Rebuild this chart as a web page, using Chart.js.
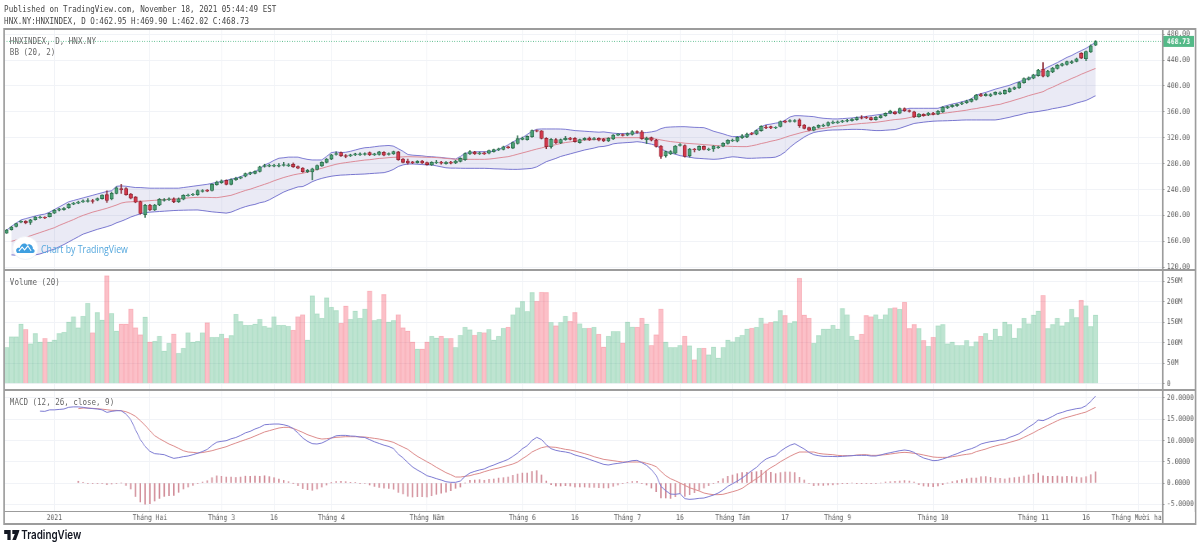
<!DOCTYPE html>
<html>
<head>
<meta charset="utf-8">
<title>HNXINDEX</title>
<script src="https://cdn.jsdelivr.net/npm/chart.js@4/dist/chart.umd.min.js"></script>
<style>
  html, body { margin: 0; padding: 0; background: #fff; overflow: hidden; }
  /* the whole screenshot is squeezed sideways, so everything is laid out wider and scaled */
  #wrap { position: absolute; left: 0; top: 0; width: 1464px; height: 547px; transform: scaleX(0.82); transform-origin: 0 0; }
  canvas { position: absolute; left: 5px; }
  .txt { position: absolute; font-family: "DejaVu Sans Mono", monospace; font-size: 9.2px; color: #666; white-space: pre; line-height: 12px; }
  .head { color: #444; }
  .line { position: absolute; background: #9c9c9c; }
  #logo-text { position: absolute; left: 50px; top: 242px; font: 10.7px "Open Sans", sans-serif; color: #54a7dd; white-space: pre; line-height: 14px; }
  #tv-text { position: absolute; left: 26px; top: 526px; font: 600 12px Inter, sans-serif; color: #131722; line-height: 18px; }
</style>
</head>
<body>
<div id="wrap">
  <canvas id="priceChart" width="1452" height="240" style="top:29px"></canvas>
  <canvas id="volumeChart" width="1452" height="119" style="top:270px"></canvas>
  <canvas id="macdChart" width="1452" height="133" style="top:390px"></canvas>

  <div class="txt head" style="left:5px;top:2.5px">Published on TradingView.com, November 18, 2021 05:44:49 EST</div>
  <div class="txt head" style="left:5px;top:14.5px">HNX.NY:HNXINDEX, D O:462.95 H:469.90 L:462.02 C:468.73</div>
  <div class="txt" style="left:12px;top:34.5px">HNXINDEX, D, HNX.NY</div>
  <div class="txt" style="left:12px;top:45.5px">BB (20, 2)</div>
  <div class="txt" style="left:12px;top:276px">Volume (20)</div>
  <div class="txt" style="left:12px;top:396px">MACD (12, 26, close, 9)</div>

  <svg style="position:absolute;left:14px;top:236px" width="34" height="24" viewBox="0 0 34 24">
    <ellipse cx="17" cy="12" rx="15.5" ry="11.5" fill="#fff" stroke="#eef1f6"/>
    <path d="M7 17 C4 14 7 11 10 12 C11 8 16 6 19 9 C22 7 27 10 26 13 C29 13 29 17 26 17 Z" fill="#3f9fe0"/>
    <path d="M9 15 L13 11 L16 14 L20 10 L24 15" fill="none" stroke="#fff" stroke-width="1.2"/>
  </svg>
  <div id="logo-text">Chart by TradingView</div>

  <svg style="position:absolute;left:5px;top:529px" width="19" height="12" viewBox="0 0 19 12">
    <path d="M0 1 H8 V11 H4 V5 H0 Z M10 1 H19 L14.5 11 H10 L13 5 H10 Z" fill="#131722"/>
  </svg>
  <div id="tv-text">TradingView</div>

  <!-- frame and pane separators -->
  <div class="line" style="left:5px;top:28px;width:1453px;height:1.5px"></div>
  <div class="line" style="left:5px;top:269px;width:1453px;height:1.5px"></div>
  <div class="line" style="left:5px;top:389px;width:1453px;height:1.5px"></div>
  <div class="line" style="left:5px;top:511px;width:1412px;height:1px"></div>
  <div class="line" style="left:5px;top:523px;width:1453px;height:1.5px"></div>
  <div class="line" style="left:4px;top:28px;width:2px;height:497px"></div>
  <div class="line" style="left:1457px;top:28px;width:2px;height:497px"></div>
  <div style="position:absolute;left:1418px;top:512px;width:39px;height:11px;background:#fff"></div>
  <div class="line" style="left:1417px;top:28px;width:1.5px;height:496px"></div>
</div>

<script>
// --- Data, one entry per trading day ---
const opens = [
  172.5,178,183,189.5,191,189,193.5,196.5,197,198,
  203.5,208,209,212,217.5,219,221,221.5,223,223.5,
  226,232,225.5,234,241.5,241.5,233,228.5,221.5,201,
  216,208.5,216,223,224,225.5,221,225,230.5,231.5,
  232,237,239,238.5,247.5,250.5,254,248,255,257.5,
  260.5,264,265,268,275.5,276,276,276,277,276.5,
  279,275.5,273,267.5,267,271,276.5,282,287,294,
  297,292.5,292,293.5,293.5,294,297,293.5,294,297.5,
  294,295,298,287,284,282.8,281.5,284,281.5,278,
  281.5,282.5,280,282.5,281,283.5,286,295,298,295,
  296.8,296,298.5,301,302,306,304,311,317.5,317,
  321.5,331,330.5,319,306,317,312,317,319.5,319,
  312.5,317,319.5,317.5,319,318,315,318,324,325,
  324,325,329.5,329,317,320,316.5,307,292,295,
  296,308,308,292,302.5,301,306.5,301.5,302.5,304.5,
  307,311,315,314.5,320,321,327,325.5,331,336.5,
  337,335,337.5,345.5,345,345,347.5,339.5,335.5,331.5,
  336,338,339,342.5,343,344.5,345.5,346.5,348,351,
  351.5,351,348,351,354,358,360,358,365,362,
  360,352.5,356,355,358,356.5,360,366,368,369.5,
  372,374,376,379,386.5,385,384.5,387,387.5,388,
  391,395,397,405,410,412,416,425.5,415,421.5,
  427,431.5,433,435.5,438,450.5,442,452.5,462.95
];
const closes = [
  177.5,182,187.5,191,188.5,193,197.5,197.5,196,203,
  208,210,211,217,219,220.5,222.5,223,221.5,226,
  231.5,223,234,242.5,239.5,232,226.5,220.5,203,215.5,
  208.5,216,225,224.5,225.5,221,225.5,231,231.5,232.5,
  238.5,238.5,237.5,248,251.5,253.5,248,255.5,257.5,259,
  264.5,266,268,275,277,277.5,277.5,277.5,278.5,278,
  275,273,267.5,269.5,272,277,282,287,293.5,295.5,
  292,291,293.5,295,295,295.5,293.5,295,298,293,
  295.5,298.5,286,282,281,281.2,283.5,281,278.5,282,
  282.5,280.5,282,280.5,284,288,295.5,298.5,295,296.8,
  295,300,301.5,303,306,304.5,312.5,318.5,319.5,322,
  331,330,319,306,317.5,312,317,319,317.5,314,
  317,319,316.5,318.5,316,315,319,324,325.5,323.5,
  326.5,329.5,328,318.5,319,316,306.5,291,298.5,298.5,
  307,309.5,291,302.5,301.5,306.5,302,302.5,307,306,
  311.5,316,316.5,320.5,323,325.5,325.5,331,337.5,335,
  335,336,345,344,346.5,346.5,338.5,334.5,331.5,336.5,
  339,339.5,343.5,344,344.5,346,347,348.5,351,350,
  350.5,348,351.5,354,357.5,361,357,365,361.5,360.5,
  352,356.5,354,358,356,361,367,368,370,371.5,
  374,377,379.5,386,384.5,387,386.5,390,389.5,393,
  396,397.5,405,411.5,412.5,417,424.5,415,423,427.5,
  432,434,437.5,437.5,442,443,453,462,468.73
];
const highs = [
  178.5,183,188,192,192,194,198,199,198,204,
  209,211,212,218,220,222,224,226,225,227,
  232,238,236,244,248,243,234,229,222,217,
  217,217,226,226,227,227,227,232,233,234,
  239.5,240,240,249,253,255,255,256.5,259,260,
  265.5,267,269,276,279,279,279,280,282,280,
  281,276.5,274,271,273,278,283,288,294.5,298,
  298,294,294.5,296,296.5,296.5,298,296,299,298.5,
  296.5,299.5,299,288,287,283.5,284.5,285,282.5,283,
  285,283.5,283,283.5,285,289,296.5,300,299,298,
  298,301,302.5,304,307,307,313.5,323,321,323,
  332,332,331,320,318.5,318.5,318,322,320.5,320,
  318,320,321,320.5,320,319,320,325,326.5,326,
  327.5,331,330.5,331,321,321,317.5,308,299.5,300,
  308,311,309,303.5,303.5,307.5,307.5,304,308,307,
  312.5,317,318,321.5,325,327,328,332,338.5,339,
  338,337,346,347,348,348,349,340.5,336.5,337.5,
  340,341,344.5,346,346,347,348.5,349.5,352,354,
  353,352,352.5,355,358.5,362.5,361,366,366,363,
  361,357.5,357,359,359,362,368,369,371,372.5,
  375,378,380.5,387,388.5,388.5,388,391,391,394,
  397,398.5,406,412.5,414,418,425.5,436,424,428.5,
  433,435,438.5,439,443,451.5,454,463.5,469.9
];
const lows = [
  172,177,182,188.5,187,186,192.5,195.5,195,197.5,
  203,207,208,211,216.5,218,220,220.5,219,222.5,
  225,220,224,233,234,231,225.5,219.5,202,197,
  207.5,207.5,215,222,223,219.5,220,224,229.5,230.5,
  231,236,236.5,237.5,246.5,249.5,247,247,254,256.5,
  259.5,263,264,267,274.5,275,275,275,276,275.5,
  274,272,266.5,266,255,270,275.5,281,286,293,
  291,289,291,292.5,292.5,293,292.5,292.5,293,292,
  293,294,285,281,279,280,280.5,280,277.5,277,
  280,279,279,279.5,280,282.5,285,294,294,294,
  294,295,297.5,300,301,303.5,303,310,316.5,316,
  320.5,329,318,303,304,311,311,316,316.5,313,
  311.5,316,315.5,316.5,315,314,314,317,323,322.5,
  323,324,327,317.5,311,315,305.5,288,290,294,
  295,307,290,290,298,300,301,300,299,303.5,
  306,310,314,313.5,319,320,324.5,324.5,330,334,
  334,334,336.5,343,344,344,336,333.5,330.5,330.5,
  335,337,338,341.5,342,343.5,344.5,345.5,347,349,
  349.5,347,347,350,353,357,356,357,360.5,359.5,
  351,351.5,353,354,355,355.5,359,365,367,368.5,
  371,373,375,378,383.5,384,383.5,386,386.5,387,
  390,394,396,404,409,411,415,414,414,420.5,
  426,430.5,432,434.5,437,442,439,451.5,462.02
];
const bbUpper = [
  177,183,188,193,195,197,199,200.8,202,205,
  209,213,217,221,223,225,227,229,231,233,
  235,237,238,245,245.5,245,244,243,243,242.5,
  242,242,242,242,242,242,242,243,244,245,
  246,247,248,249.5,251,252.5,254,256,257.4,260,
  262.5,265,267.6,272,277.8,281,285,288.3,289,290,
  290,290,288,286.5,285.6,285.6,285.6,291,297,298,
  297,297.5,299,301,303,304.5,305,306,307,307.5,
  308,307,303,299,294,293,292.5,292,291,290.7,
  290,289.5,288.5,288,287,291,296,297,298,298.4,
  298.4,298.4,299,302,305,309,313.5,317,320,325,
  330,333,333.5,333.5,333.5,333.5,333.4,333,332,331,
  330.5,330,329.5,329,328.5,329,328,327,326.5,326.5,
  326.7,326.7,327,327.5,328,329,330.5,334,336,336.5,
  336.8,337,337,336.5,336,335.8,335.5,333,330,328,
  326,323.5,321.6,321.8,322.2,322.6,326,332,337,340,
  341,342.5,343.5,347,352,354,354,353.5,353,352.5,
  351,350,349.5,349,349,349.5,350,350.5,351.5,352,
  353,354,355,356,357,358,359,360.5,363.5,365.4,
  365.4,365.4,365.4,365.4,365.4,365.4,368,370,372,373.5,
  375.5,377.2,380,386,388,390,392.5,395,397,399,
  401,404,406.5,409,412,415,419,425,429,432.5,
  436,440,444,447,451,454.5,458,462.5,467.3
];
const bbLower = [
  null,139,138.5,138,137.5,138,139,140.5,143,145.5,
  148,151.5,155,159,163,167,171,173.5,176,178.5,
  180.5,182.6,185,188.5,191,194,197.5,200,202.5,204.2,
  205,205.5,206,206.5,207,207.5,207.8,208,208.2,208.3,
  208.4,207.5,206.5,205.5,204.8,204.2,203.5,205,208,211,
  213.5,215.5,217,219.5,221,224,228,232,236,239,
  241.5,244,244.5,248,252.1,255,257.2,259,260.5,261.5,
  262.2,262.5,263,263.3,263.6,263.9,264.5,265,265.5,266,
  268,271,275.5,278,279.4,279.4,279,278.5,278,278,
  276.5,275,273.5,273,273,272.8,272.7,272.7,272.7,272.7,
  272.7,272.5,272,271.8,271.5,271.2,271.1,271.1,271.5,272,
  272.7,275,279,283,285.5,288,291,293,295,297,
  299,301,302.5,304,306,306.5,308,310.5,311.5,312,
  312.5,313,313.8,313,311.5,310,308,303,299,296.5,
  294.5,292.3,291,290,288.5,288,287.5,287,286.6,287,
  288,289.5,290.5,290,289,288.2,288.2,288.5,288.8,289,
  289.2,290,293,298,305,311,316,321,325,328,
  329.5,330.5,331.5,331.9,332,332.3,332.6,332.9,332.9,332.7,
  332.2,331.5,331,331,331.5,332,332.5,334.5,337,339.5,
  342,343,344,344.8,345.5,345.8,346,346.2,346.5,346.8,
  347.2,347.4,347.4,347.4,347.4,347.4,347.4,347.4,348.5,350,
  351.5,353.5,355,357,358.7,359.5,360.5,361.8,363,364.8,
  366,367.5,369,371,373.5,375.5,377.5,381,384.9
];
const bbBasis = [
  null,160,162,164,166,168.5,171,173.5,176,178.5,
  181,184.5,187.5,190.5,193.5,197,200,202.5,205,207,
  209,211,213.5,216,219,220.5,221,221.5,222,222.2,
  222.8,223.3,223.8,224.2,224.8,225.3,225.8,226.3,227,227.5,
  227.9,227.9,227.8,227.6,227.4,228.5,229.7,231,233.5,236,
  238.5,240.5,243,245.5,248,250.5,253.5,256,258.5,260.5,
  262.5,264,265,267,269.1,271,272.7,275,277,279,
  280.4,281.5,282.5,283.5,284.5,285.5,286,287,288,288.5,
  289.2,289.7,290,290.4,290.7,290.5,290.3,290,289.8,289.7,
  289.3,288.8,288,287.4,286.8,286.6,286.6,286.6,286.6,286.6,
  286.6,287,287.8,288.8,289.8,290.7,292.5,294.5,296.5,298.4,
  300.5,302.5,304.2,306.2,307.8,309.3,311,312.5,313.5,314.5,
  315.5,316.4,316.8,317,317.5,319,319.5,319.8,320,320,
  320,320,320,320,319.5,319,318,316.5,315.2,314,
  313.2,312.5,311.5,311,310.5,310,309.3,308.8,308.2,307.6,
  307.2,306.8,306.5,306.3,306.2,306.2,307.5,309,311,312.5,
  314.5,316,318,320.5,323,325,327,329,330.5,332,
  333.5,334.5,335.5,337,338,338.5,339.5,340.5,341.2,342,
  342.5,343.2,343.7,344.8,345.8,347,348,348.6,349.5,351,
  352.5,353.5,354.5,355,356,356.8,357.6,358.5,359.5,360.5,
  361.5,362.5,364,365,366.5,367.5,369,370.5,371.5,373.8,
  375.7,378,380.2,382.5,385,387,389,391.1,395,398,
  401.5,405,408,411.5,414.5,418,421,424,427
];
// volume in millions
const volumes = [
  89,115,115,146,133,98,123,102,111,102,
  107,123,126,151,164,137,165,197,125,174,
  156,264,172,129,146,146,183,137,120,163,
  102,104,116,80,99,122,75,87,125,102,
  104,125,149,114,114,122,111,118,170,152,
  143,143,146,158,141,137,164,143,143,141,
  131,164,169,107,215,171,160,210,187,179,
  148,190,158,178,160,183,227,155,158,218,
  151,155,169,137,129,102,85,85,102,116,
  112,116,111,111,89,119,138,132,119,126,
  125,133,107,116,136,138,169,186,201,177,
  223,202,224,223,150,142,150,165,153,174,
  147,136,136,138,121,90,116,128,128,100,
  151,139,138,160,146,94,120,183,102,89,
  89,94,116,93,59,87,87,71,90,63,
  89,107,103,114,119,134,136,138,161,147,
  150,152,179,167,148,152,258,168,160,99,
  118,134,134,143,134,184,169,116,107,121,
  167,164,169,158,169,184,186,182,199,135,
  145,135,106,92,114,142,145,98,102,94,
  94,106,91,103,116,123,107,134,116,151,
  145,112,135,160,147,168,178,216,135,145,
  160,142,150,182,162,204,191,140,168
];
const macdLine = [
  null,null,null,null,null,null,null,16.9,16.85,17.2,
  17.2,17.3,17.4,17.8,17.9,17.9,17.8,17.6,17.5,17.4,
  17.2,16.6,16.85,17,17,16.2,14.9,12.5,10.2,8.6,
  7.45,6.9,6.8,6.66,6.2,5.8,5.96,6.2,6.35,6.66,
  7,7.4,7.9,8.85,9.6,9.8,9.95,10.4,10.7,11.2,
  11.8,12.15,12.7,13.1,13.7,13.8,13.87,13.87,13.7,13.4,
  12.8,11.75,10.6,9.8,9.25,9.17,9.4,9.95,10.6,11.1,
  11.2,11.2,11.05,11,10.8,10.7,10.2,9.7,9.3,8.9,
  8.6,8.1,6.8,5.9,4.8,3.76,3.06,2.43,1.72,1.4,
  1.02,0.7,0.3,0.16,0.16,0.47,1.57,2.35,2.74,3.06,
  3.3,3.84,4.23,4.7,5.1,5.56,6.27,7.05,8.07,8.78,
  10,10.74,10.2,9,8.07,7.68,7.45,7.3,7.05,6.58,
  6.27,5.96,5.56,5.17,4.78,4.39,4.23,4.47,4.62,4.78,
  5,5.25,5.33,4.78,4.15,3.13,1.8,-0.78,-1.8,-2.6,
  -2.66,-2.5,-3.68,-3.84,-3.76,-3.6,-3.53,-3.2,-2.82,-2.35,
  -1.65,-0.78,-0.16,0.47,1.18,2.04,2.9,3.68,4.78,5.64,
  6.11,6.43,7.45,8.23,8.86,9.25,8.62,8,7.2,6.66,
  6.43,6.27,6.27,6.23,6.2,6.27,6.35,6.43,6.5,6.5,
  6.5,6.35,6.35,6.58,6.9,7.13,7.37,7.6,7.76,7.6,
  7.2,6.43,5.88,5.56,5.25,5.33,5.64,6.03,6.5,6.9,
  7.37,7.76,8.07,8.54,9.17,9.48,9.72,9.87,10.1,10.2,
  10.74,11.13,11.6,12.38,13.17,13.87,14.81,14.66,15.13,15.67,
  16.3,16.6,17,17.24,17.48,17.63,18.18,19.2,20.45
];
const signalLine = [
  null,null,null,null,null,null,null,null,null,null,
  null,null,null,null,null,17.48,17.63,17.63,17.55,17.48,
  17.36,17.24,17.08,17.08,17,16.77,16.3,15.67,14.65,13.56,
  12.3,11.13,10.42,9.8,9.17,8.7,8.15,7.6,7.29,7.21,
  7.05,7.17,7.37,7.6,7.92,8.23,8.54,9,9.4,9.8,
  10.19,10.58,11.05,11.52,12,12.3,12.62,12.93,13.09,13.09,
  12.85,12.38,11.91,11.36,10.97,10.58,10.34,10.42,10.58,10.74,
  10.81,10.89,10.89,10.89,10.85,10.81,10.66,10.5,10.34,10.1,
  9.87,9.56,9,8.46,7.92,7.05,6.27,5.64,5,4.39,
  3.68,3.06,2.43,1.96,1.41,1.41,1.57,1.72,2.04,2.27,
  2.66,2.98,3.29,3.53,3.84,4.15,4.47,4.94,5.72,6.43,
  7.29,7.84,8.31,8.54,8.46,8.39,8.15,7.92,7.76,7.52,
  7.21,6.9,6.58,6.19,5.88,5.56,5.41,5.25,5.09,4.94,
  4.94,4.94,4.94,4.94,4.62,4.31,3.84,2.74,1.72,1.02,
  0.55,0,-0.55,-1.1,-1.49,-1.88,-2.35,-2.59,-2.74,-2.74,
  -2.66,-2.35,-2.04,-1.72,-1.25,-0.47,0.31,1.02,1.8,2.82,
  3.6,4.23,5,5.64,6.27,6.82,7.29,7.29,7.29,7.29,
  6.97,6.82,6.74,6.66,6.5,6.43,6.43,6.43,6.58,6.66,
  6.66,6.5,6.5,6.58,6.66,6.82,6.97,7.13,7.21,7.13,
  6.97,6.82,6.58,6.35,6.11,6.03,6.03,6.03,6.19,6.35,
  6.58,6.74,6.9,7.37,7.68,7.99,8.39,8.7,9,9.25,
  9.56,9.87,10.2,10.74,11.28,11.83,12.46,13,13.56,14.1,
  14.65,15.13,15.44,15.75,16.07,16.38,16.69,17.24,17.8
];
const macdHist = [
  null,null,null,null,null,null,null,null,null,null,
  null,null,null,null,null,0.42,0.17,-0.05,-0.05,-0.08,
  -0.16,-0.4,-0.23,-0.08,0,-0.57,-1.4,-3.17,-4.45,-4.96,
  -4.85,-4.23,-3.62,-3.14,-2.97,-2.9,-2.19,-1.4,-0.94,-0.55,
  -0.05,0.23,0.53,1.25,1.68,1.57,1.41,1.4,1.3,1.4,
  1.61,1.57,1.65,1.58,1.7,1.5,1.25,0.94,0.61,0.31,
  -0.05,-0.63,-1.31,-1.56,-1.72,-1.41,-0.94,-0.47,0.02,0.36,
  0.39,0.31,0.16,0.11,-0.05,-0.11,-0.46,-0.8,-1.04,-1.2,
  -1.27,-1.46,-2.2,-2.56,-3.12,-3.29,-3.21,-3.21,-3.28,-2.99,
  -2.66,-2.36,-2.13,-1.8,-1.25,-0.94,0,0.63,0.7,0.79,
  0.64,0.86,0.94,1.17,1.26,1.41,1.8,2.11,2.35,2.35,
  2.71,2.9,1.89,0.46,-0.39,-0.71,-0.7,-0.62,-0.71,-0.94,
  -0.94,-0.94,-1.02,-1.02,-1.1,-1.17,-1.18,-0.78,-0.47,-0.16,
  0.06,0.31,0.39,-0.16,-0.47,-1.18,-2.04,-3.52,-3.52,-3.62,
  -3.21,-2.5,-3.13,-2.74,-2.27,-1.72,-1.18,-0.61,-0.08,0.39,
  1.01,1.57,1.88,2.19,2.43,2.51,2.59,2.66,2.98,2.82,
  2.51,2.2,2.45,2.59,2.59,2.43,1.33,0.71,-0.09,-0.63,
  -0.54,-0.55,-0.47,-0.43,-0.3,-0.16,-0.08,0,-0.08,-0.16,
  -0.16,-0.15,-0.15,0,0.24,0.31,0.4,0.47,0.55,0.47,
  0.23,-0.39,-0.7,-0.79,-0.86,-0.7,-0.39,0,0.31,0.55,
  0.79,1.02,1.17,1.17,1.49,1.49,1.33,1.17,1.1,0.95,
  1.18,1.26,1.4,1.64,1.89,2.04,2.35,1.66,1.57,1.57,
  1.65,1.47,1.56,1.49,1.41,1.25,1.49,1.96,2.65
];

// Time axis: bar index of each label
const timeTicks = [10, 30, 45, 56, 68, 88, 108, 119, 130, 141, 152, 163, 174, 194, 215, 226, 237];
const timeLabels = ['2021', 'Tháng Hai', 'Tháng 3', '16', 'Tháng 4', 'Tháng Năm', 'Tháng 6', '16', 'Tháng 7', '16', 'Tháng Tám', '17', 'Tháng 9', 'Tháng 10', 'Tháng 11', '16', 'Tháng Mười hai'];
const lastClose = 468.73;

// --- Shared look ---
const TEXT = '#5c5c5c';
const GRID = '#f1f3f7';
const MONO = '"DejaVu Sans Mono", monospace';
const X_MIN = -0.523;
const X_MAX = 241.9;

const isUp = opens.map((o, i) => closes[i] >= o);
const pts = arr => arr.map((y, x) => ({ x, y }));

function xAxis(showLabels) {
    return {
        type: 'linear', min: X_MIN, max: X_MAX, offset: false,
        border: { display: false },
        grid: { color: GRID, lineWidth: 1, drawTicks: false, offset: false },
        afterBuildTicks: s => { s.ticks = timeTicks.map(v => ({ value: v })); },
        afterFit: s => {
            s.height = showLabels ? 12 : 0;
            s.paddingLeft = 0;
            s.paddingRight = 0;
        },
        ticks: {
            display: showLabels, autoSkip: false, maxRotation: 0, minRotation: 0, padding: 2,
            color: TEXT, font: { family: MONO, size: 7.8 },
            callback: (v, i) => timeLabels[i]
        }
    };
}

function yAxis(min, max, step, fmt) {
    return {
        position: 'right', min, max,
        border: { display: false },
        grid: { color: GRID, lineWidth: 1, tickLength: 3, tickColor: '#888' },
        afterFit: s => {
            s.width = 40;
            s.paddingTop = 0;
            s.paddingBottom = 0;
        },
        ticks: {
            stepSize: step, includeBounds: false, padding: 3,
            color: TEXT, font: { family: MONO, size: 7.8 },
            callback: fmt
        }
    };
}

const baseOptions = {
    responsive: false, animation: false, devicePixelRatio: 1,
    layout: { padding: 0 },
    plugins: { legend: { display: false }, tooltip: { enabled: false } }
};

// Green tag with the last price on the axis
const priceTag = {
    id: 'priceTag',
    afterDraw(chart) {
        const y = chart.scales.y.getPixelForValue(lastClose);
        const ctx = chart.ctx;
        const left = chart.chartArea.right;
        ctx.save();
        ctx.fillStyle = '#53b987';
        ctx.fillRect(left + 1, y - 5.5, 38, 11);
        ctx.fillStyle = '#fff';
        ctx.font = 'bold 7.8px ' + MONO;
        ctx.textBaseline = 'middle';
        ctx.fillText(lastClose.toFixed(2), left + 6, y + 0.5);
        ctx.restore();
    }
};

// --- Price pane ---
new Chart(document.getElementById('priceChart'), {
    data: {
        datasets: [
            {
                type: 'bar', order: 1, grouped: false, barThickness: 4.2,
                data: opens.map((o, i) => ({ x: i, y: [o, closes[i]] })),
                backgroundColor: isUp.map(u => u ? '#4a9f75' : '#d2394c'),
                borderColor: isUp.map(u => u ? '#2a6a48' : '#8a2430'),
                borderWidth: 0.8, borderSkipped: false
            },
            {
                type: 'bar', order: 2, grouped: false, barThickness: 1,
                data: highs.map((h, i) => ({ x: i, y: [lows[i], h] })),
                backgroundColor: isUp.map(u => u ? '#2a6a48' : '#8a2430')
            },
            { type: 'line', order: 4, data: pts(bbUpper), borderColor: '#7c7ad2', borderWidth: 1, pointRadius: 0, fill: '+1', backgroundColor: 'rgba(51,51,153,0.1)' },
            { type: 'line', order: 4, data: pts(bbLower), borderColor: '#7c7ad2', borderWidth: 1, pointRadius: 0, fill: false, spanGaps: false },
            { type: 'line', order: 3, data: pts(bbBasis), borderColor: '#dc8a97', borderWidth: 1, pointRadius: 0, fill: false },
            {
                type: 'line', order: 0, pointRadius: 0, borderColor: '#53b987', borderWidth: 1, borderDash: [1, 2],
                data: [{ x: X_MIN, y: lastClose }, { x: X_MAX, y: lastClose }]
            }
        ]
    },
    options: {
        ...baseOptions,
        scales: { x: xAxis(false), y: yAxis(117.2, 487.9, 40, v => v.toFixed(2)) }
    },
    plugins: [priceTag]
});

// --- Volume pane ---
new Chart(document.getElementById('volumeChart'), {
    type: 'bar',
    data: {
        datasets: [{
            data: pts(volumes), barThickness: 5.83,
            backgroundColor: isUp.map(u => u ? 'rgba(83,185,135,0.38)' : 'rgba(245,90,110,0.38)'),
            borderColor: isUp.map(u => u ? 'rgba(83,185,135,0.2)' : 'rgba(235,77,92,0.2)'),
            borderWidth: 0.5
        }]
    },
    options: {
        ...baseOptions,
        scales: { x: xAxis(false), y: yAxis(-12.9, 277.6, 50, v => v === 0 ? '0' : v + 'M') }
    }
});

// --- MACD pane ---
new Chart(document.getElementById('macdChart'), {
    data: {
        datasets: [
            { type: 'line', order: 1, data: pts(macdLine), borderColor: '#7c7ad2', borderWidth: 1, pointRadius: 0 },
            { type: 'line', order: 2, data: pts(signalLine), borderColor: '#dc8a8a', borderWidth: 1, pointRadius: 0 },
            { type: 'bar', order: 3, data: pts(macdHist), barThickness: 1.1, backgroundColor: '#d08a96' }
        ]
    },
    options: {
        ...baseOptions,
        scales: { x: xAxis(true), y: yAxis(-6.58, 21.87, 5, v => v.toFixed(4)) }
    }
});
</script>
</body>
</html>
